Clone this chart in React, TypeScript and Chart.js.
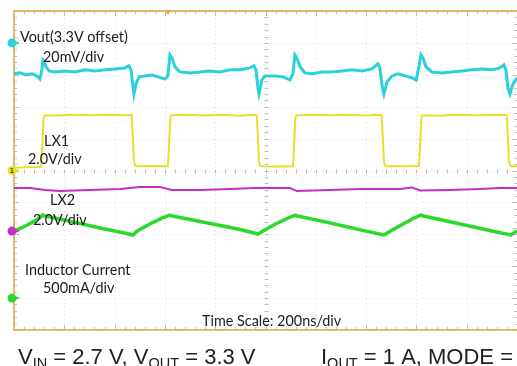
import React, { useEffect, useRef } from "react";
import { Chart, registerables } from "chart.js";

Chart.register(...registerables);

// ---- scope settings ----
const TIME_MAX_NS = 2000; // 200 ns/div, 10 div
const NS_PER_DIV = 200;
const DIVS = 10;

// channel: units per division and reference position (in divisions from centre)
const voutPerDiv = 20; // mV/div
const voutRefDiv = 4;
const lx1PerDiv = 2.0; // V/div
const lx1RefDiv = 0;
const lx2PerDiv = 2.0; // V/div
const lx2RefDiv = -1.9;
const ilPerDiv = 500; // mA/div
const ilRefDiv = -4;
const triggerTimeNs = 612;

// ---- data ----
// Vout (mV, relative to 3.3 V offset)
const voutTime = [0, 24, 48, 72, 91, 103, 111, 115, 119, 127,
  139, 163, 203, 243, 282, 322, 362, 402, 441, 457,
  465, 473, 477, 485, 497, 521, 549, 573, 600, 612,
  620, 628, 640, 660, 700, 740, 779, 819, 859, 899,
  938, 954, 962, 970, 974, 986, 998, 1038, 1070, 1097,
  1109, 1117, 1125, 1137, 1157, 1185, 1225, 1264, 1304, 1344,
  1384, 1423, 1447, 1455, 1463, 1471, 1483, 1503, 1527, 1555,
  1583, 1599, 1606, 1618, 1626, 1638, 1662, 1702, 1741, 1781,
  1821, 1861, 1901, 1932, 1948, 1956, 1964, 1972, 1984, 2000];
const voutMv = [-19.4, -18.8, -20.1, -19.4, -20.7, -22.6, -16.9, -10.7, -11.3, -15.0,
  -17.6, -18.2, -17.6, -18.2, -16.9, -17.6, -16.9, -16.3, -15.7, -14.4,
  -16.9, -27.0, -32.0, -25.7, -21.3, -20.7, -20.1, -21.3, -22.6, -20.7,
  -7.5, -9.4, -15.0, -18.2, -18.8, -18.2, -17.6, -18.2, -16.9, -16.9,
  -15.7, -14.4, -16.9, -28.2, -32.0, -23.2, -20.7, -20.7, -21.3, -23.2,
  -19.4, -7.5, -9.4, -15.0, -18.8, -19.4, -18.2, -18.2, -17.6, -16.9,
  -17.6, -16.3, -13.2, -15.7, -26.3, -32.0, -24.5, -20.7, -19.4, -20.7,
  -21.9, -23.2, -18.2, -7.5, -9.4, -15.0, -18.2, -18.8, -18.2, -17.6,
  -16.9, -16.3, -16.9, -15.7, -13.8, -16.9, -28.2, -32.0, -25.7, -21.9];

// LX1 (V)
const lx1Time = [0, 50, 108, 113, 117, 122,
  180, 250, 320, 390, 440, 468,
  472, 477, 482, 487, 540, 612,
  617, 622, 627, 690, 760, 830,
  900, 945, 965, 969, 974, 979,
  984, 1050, 1109, 1114, 1119, 1124,
  1190, 1260, 1330, 1400, 1440, 1462,
  1466, 1471, 1476, 1481, 1550, 1610,
  1615, 1620, 1625, 1690, 1760, 1830,
  1900, 1940, 1959, 1963, 1968, 1973,
  1978, 2000];
const lx1V = [0.18, 0.2, 0.22, 1.6, 3.3, 3.47,
  3.45, 3.5, 3.46, 3.5, 3.47, 3.48,
  2.2, 0.6, 0.3, 0.26, 0.28, 0.26,
  1.8, 3.35, 3.46, 3.5, 3.45, 3.49,
  3.44, 3.5, 3.47, 2.3, 0.6, 0.3,
  0.27, 0.25, 0.27, 1.7, 3.35, 3.46,
  3.5, 3.46, 3.49, 3.45, 3.5, 3.47,
  2.2, 0.6, 0.3, 0.27, 0.26, 0.28,
  1.7, 3.35, 3.47, 3.44, 3.5, 3.46,
  3.48, 3.5, 3.46, 2.3, 0.6, 0.3,
  0.27, 0.27];

// LX2 (V)
const lx2Time = [0, 64, 123, 183, 302, 421, 501, 580, 628, 740, 859, 958,
  1097, 1125, 1256, 1376, 1535, 1582, 1614, 1734, 1853, 1932, 2000];
const lx2V = [2.70, 2.70, 2.58, 2.51, 2.58, 2.64, 2.77, 2.77, 2.58, 2.58, 2.64, 2.70,
  2.70, 2.51, 2.58, 2.64, 2.64, 2.74, 2.55, 2.58, 2.64, 2.70, 2.70];

// Inductor current (mA)
const ilTime = [0, 30, 60, 95, 115, 125, 200, 280, 360, 440, 473, 490,
  540, 590, 620, 630, 720, 810, 900, 970, 990, 1040, 1090, 1117,
  1127, 1220, 1310, 1400, 1471, 1490, 1540, 1590, 1618, 1628, 1720, 1810,
  1900, 1976, 2000];
const ilMa = [1052, 1099, 1161, 1240, 1302, 1287, 1224, 1154, 1083, 1020, 989, 1052,
  1161, 1256, 1302, 1287, 1216, 1146, 1075, 1004, 1052, 1161, 1256, 1302,
  1287, 1210, 1130, 1050, 989, 1036, 1146, 1256, 1302, 1287, 1208, 1130,
  1052, 989, 1052];

// ---- text ----
const labels: [string, number, number][] = [
  ["Vout(3.3V offset)", 20, 42],
  ["20mV/div", 43, 62],
  ["LX1", 44, 146],
  ["2.0V/div", 28, 164],
  ["LX2", 50, 205],
  ["2.0V/div", 33, 225],
  ["Inductor Current", 25, 275],
  ["500mA/div", 43, 293],
  ["Time Scale: 200ns/div", 202, 326],
];
const captionLeft: [string, boolean][] = [["V", false], ["IN", true], [" = 2.7 V, V", false], ["OUT", true], [" = 3.3 V", false]];
const captionRight: [string, boolean][] = [["I", false], ["OUT", true], [" = 1 A, MODE =", false]];

const C_VOUT = "#2ad0dc";
const C_LX1 = "#e6e02a";
const C_LX2 = "#c62ec8";
const C_IL = "#2cd82c";
const FRAME = "#dcbb68";
const LABEL_FONT = "14.4px Lato, 'Open Sans', sans-serif";

function pts(t: number[], v: number[]) {
  return t.map((x, i) => ({ x, y: v[i] }));
}
function axisRange(perDiv: number, refDiv: number) {
  return { min: (-DIVS / 2 - refDiv) * perDiv, max: (DIVS / 2 - refDiv) * perDiv };
}

const scopePlugin = {
  id: "scope",
  beforeDatasetsDraw(chart: any) {
    const { ctx, chartArea: a, scales } = chart;
    const xs = scales.x;
    const yd = scales.yL1; // 2 V/div, ref at centre
    ctx.save();
    // dotted grid
    ctx.strokeStyle = "rgba(150,150,150,0.3)";
    ctx.lineWidth = 1;
    ctx.setLineDash([1, 3]);
    for (let i = 1; i < DIVS; i++) {
      const x = Math.round(xs.getPixelForValue(i * NS_PER_DIV)) + 0.5;
      ctx.beginPath(); ctx.moveTo(x, a.top); ctx.lineTo(x, a.bottom); ctx.stroke();
      const y = Math.round(yd.getPixelForValue((i - DIVS / 2) * lx1PerDiv)) + 0.5;
      ctx.beginPath(); ctx.moveTo(a.left, y); ctx.lineTo(a.right, y); ctx.stroke();
    }
    ctx.setLineDash([]);
    // minor ticks on centre lines and edges
    ctx.strokeStyle = "rgba(140,140,140,0.55)";
    const cx = Math.round(xs.getPixelForValue(TIME_MAX_NS / 2)) + 0.5;
    const cy = Math.round(yd.getPixelForValue(0)) + 0.5;
    for (let k = 1; k < DIVS * 5; k++) {
      const x = Math.round(xs.getPixelForValue(k * NS_PER_DIV / 5)) + 0.5;
      const big = k % 5 === 0;
      ctx.beginPath();
      ctx.moveTo(x, cy - 2); ctx.lineTo(x, cy + 2);
      ctx.moveTo(x, a.top); ctx.lineTo(x, a.top + (big ? 5 : 3));
      ctx.moveTo(x, a.bottom); ctx.lineTo(x, a.bottom - (big ? 5 : 3));
      ctx.stroke();
      const y = Math.round(yd.getPixelForValue((k / 5 - DIVS / 2) * lx1PerDiv)) + 0.5;
      ctx.beginPath();
      ctx.moveTo(cx - 2, y); ctx.lineTo(cx + 2, y);
      ctx.moveTo(a.left, y); ctx.lineTo(a.left + (big ? 5 : 3), y);
      ctx.moveTo(a.right, y); ctx.lineTo(a.right - (big ? 5 : 3), y);
      ctx.stroke();
    }
    // frame
    ctx.strokeStyle = FRAME;
    ctx.lineWidth = 2;
    ctx.strokeRect(a.left, a.top, a.right - a.left + 2, a.bottom - a.top);
    // trigger marker
    const tx = xs.getPixelForValue(triggerTimeNs);
    ctx.fillStyle = "#f0a030";
    ctx.beginPath();
    ctx.moveTo(tx - 2.5, a.top); ctx.lineTo(tx + 2.5, a.top); ctx.lineTo(tx, a.top + 4); ctx.closePath();
    ctx.fill();
    ctx.restore();
  },
  afterDatasetsDraw(chart: any) {
    const { ctx, chartArea: a, scales } = chart;
    ctx.save();
    // channel reference markers
    const marks: [string, string, string][] = [["yV", C_VOUT, ""], ["yL1", C_LX1, "1"], ["yL2", C_LX2, ""], ["yI", C_IL, ""]];
    for (const [id, col, txt] of marks) {
      const y = scales[id].getPixelForValue(0);
      const x = a.left - 2;
      ctx.fillStyle = col;
      ctx.beginPath(); ctx.arc(x, y, 4.5, 0, Math.PI * 2); ctx.fill();
      ctx.beginPath(); ctx.moveTo(x + 3, y - 2); ctx.lineTo(x + 8, y); ctx.lineTo(x + 3, y + 2); ctx.closePath(); ctx.fill();
      if (txt) {
        ctx.fillStyle = "#6a6400";
        ctx.font = "bold 7px 'DejaVu Sans'";
        ctx.textAlign = "center"; ctx.textBaseline = "middle";
        ctx.fillText(txt, x, y + 0.5);
      }
    }
    // labels
    ctx.textAlign = "left"; ctx.textBaseline = "alphabetic";
    ctx.fillStyle = "#1c1c1c";
    ctx.font = LABEL_FONT;
    for (const [t, x, y] of labels) ctx.fillText(t, x, y);
    // caption
    const drawRich = (parts: [string, boolean][], x0: number, y0: number) => {
      let x = x0;
      for (const [t, sub] of parts) {
        ctx.font = sub ? "14.5px 'Liberation Sans', Arial, sans-serif" : "22px 'Liberation Sans', Arial, sans-serif";
        ctx.fillText(t, x, sub ? y0 + 4 : y0);
        x += ctx.measureText(t).width;
      }
    };
    ctx.fillStyle = "#202020";
    drawRich(captionLeft, 18, 364);
    drawRich(captionRight, 321, 364);
    ctx.restore();
  },
};

export default function App() {
  const ref = useRef<HTMLCanvasElement>(null);
  useEffect(() => {
    const common = { pointRadius: 0, tension: 0, fill: false, xAxisID: "x" };
    const chart = new Chart(ref.current as HTMLCanvasElement, {
      type: "line",
      data: {
        datasets: [
          { ...common, label: "Inductor Current", data: pts(ilTime, ilMa), yAxisID: "yI", borderColor: C_IL, borderWidth: 3.5 },
          { ...common, label: "LX2", data: pts(lx2Time, lx2V), yAxisID: "yL2", borderColor: C_LX2, borderWidth: 2 },
          { ...common, label: "LX1", data: pts(lx1Time, lx1V), yAxisID: "yL1", borderColor: C_LX1, borderWidth: 2 },
          { ...common, label: "Vout", data: pts(voutTime, voutMv), yAxisID: "yV", borderColor: C_VOUT, borderWidth: 3 },
        ] as any,
      },
      options: {
        animation: false,
        responsive: false,
        devicePixelRatio: 1,
        events: [],
        layout: { padding: { left: 14, top: 11, right: 0, bottom: 36 } },
        plugins: { legend: { display: false }, tooltip: { enabled: false } },
        scales: {
          x: { type: "linear", min: 0, max: TIME_MAX_NS, display: false },
          yV: { type: "linear", ...axisRange(voutPerDiv, voutRefDiv), display: false },
          yL1: { type: "linear", ...axisRange(lx1PerDiv, lx1RefDiv), display: false },
          yL2: { type: "linear", ...axisRange(lx2PerDiv, lx2RefDiv), display: false },
          yI: { type: "linear", ...axisRange(ilPerDiv, ilRefDiv), display: false },
        },
      } as any,
      plugins: [scopePlugin],
    });
    return () => chart.destroy();
  }, []);
  return (
    <div style={{ position: "absolute", left: 0, top: 0, width: 517, height: 366, background: "#fff" }}>
      <canvas ref={ref} width={517} height={366} style={{ display: "block", width: 517, height: 366 }} />
    </div>
  );
}
